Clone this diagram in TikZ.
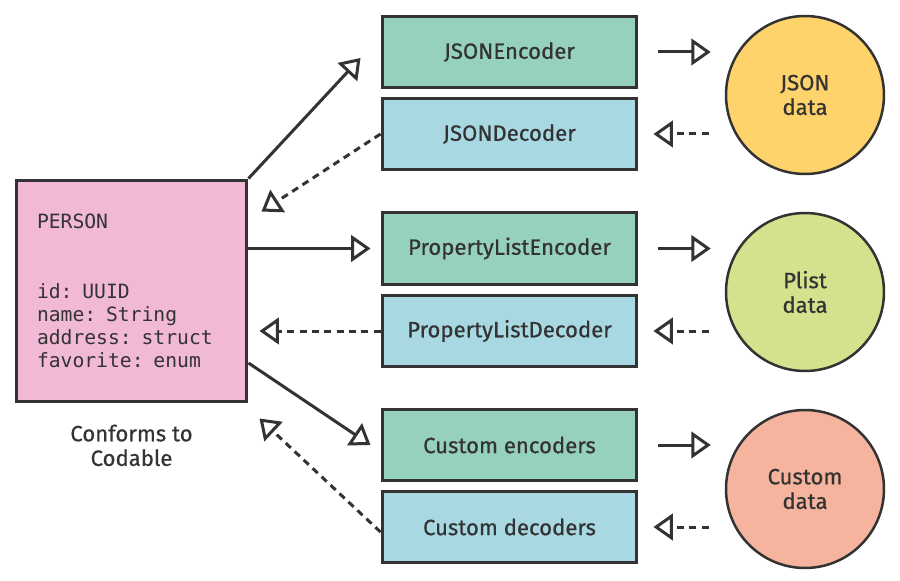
\documentclass[tikz,border=0pt]{standalone}
\usepackage{fontspec}
\setmainfont{Fira Sans}[FakeBold=0.6]
\setmonofont{DejaVu Sans Mono}
\usetikzlibrary{arrows.meta, positioning}
\definecolor{inkgray}{HTML}{333333}
\definecolor{personpink}{HTML}{F2B9D6}
\definecolor{encgreen}{HTML}{96D0BF}
\definecolor{decblue}{HTML}{A8D9E3}
\definecolor{jsonyellow}{HTML}{FFD36C}
\definecolor{plistlime}{HTML}{D6E18D}
\definecolor{customsalmon}{HTML}{F6B49E}

\begin{document}
\begin{tikzpicture}[x=0.02cm, y=-0.02cm,
    codebox/.style={draw=inkgray, line width=0.06cm, minimum width=5.1cm, minimum height=1.44cm, inner sep=0pt, text=inkgray, font=\fontsize{12.6}{14}\selectfont},
    encbox/.style={codebox, fill=encgreen},
    decbox/.style={codebox, fill=decblue},
    datacircle/.style={circle, draw=inkgray, line width=0.05cm, minimum size=3.16cm, inner sep=0pt, align=center, text=inkgray, font=\fontsize{12.6}{14}\selectfont},
    flow/.style={draw=inkgray, line width=0.06cm, line join=round, -{Triangle[open, length=11pt, width=15pt, line width=0.06cm]}},
    backflow/.style={flow, dash pattern=on 4pt off 3pt}]
    \useasboundingbox (0,0) rectangle (900,581);

    % the type that conforms to Codable
    \node[draw=inkgray, line width=0.06cm, fill=personpink, minimum width=4.62cm, minimum height=4.44cm,
          inner xsep=0.42cm, text width=3.78cm, align=left, text=inkgray,
          font=\ttfamily\fontsize{11.2}{13}\selectfont] (person) at (131.5,291)
        {PERSON\\[0.94cm] id: UUID\\ name: String\\ address: struct\\ favorite: enum};
    \node[below=0.3cm of person, align=center, text=inkgray, font=\fontsize{12.6}{14}\selectfont] (conforms) {Conforms to\\Codable};

    % encoders and decoders
    \node[encbox] (jsonenc) at (509.5,52) {JSONEncoder};
    \node[decbox] (jsondec) at (509.5,134) {JSONDecoder};
    \node[encbox] (plistenc) at (509.5,248.5) {PropertyListEncoder};
    \node[decbox] (plistdec) at (509.5,331) {PropertyListDecoder};
    \node[encbox] (customenc) at (509.5,445) {Custom encoders};
    \node[decbox] (customdec) at (509.5,527) {Custom decoders};

    % data formats
    \node[datacircle, fill=jsonyellow] (json) at (805,95) {JSON\\data};
    \node[datacircle, fill=plistlime] (plist) at (805,292) {Plist\\data};
    \node[datacircle, fill=customsalmon] (custom) at (805,489) {Custom\\data};

    % person <-> coders
    \draw[flow] (person.north east) -- ([shift={(-20,6)}]jsonenc.west);
    \draw[backflow] (jsondec.west) -- ([shift={(13,33)}]person.north east);
    \draw[flow, shorten >=10*0.02cm] (person.east |- plistenc.west) -- (plistenc.west);
    \draw[backflow, shorten >=11*0.02cm] (plistdec.west) -- (person.east |- plistdec.west);
    \draw[flow] ([shift={(0,72)}]person.east) -- ([shift={(-10,0)}]customenc.west);
    \draw[backflow] ([shift={(0,5)}]customdec.west) -- ([shift={(11,15)}]person.south east);

    % coders <-> data
    \foreach \enc/\dec/\data in {jsonenc/jsondec/json, plistenc/plistdec/plist, customenc/customdec/custom} {
        \draw[flow, shorten <=20*0.02cm, shorten >=14*0.02cm] (\enc.east) -- (\enc.east -| \data.west);
        \draw[backflow, shorten <=16*0.02cm, shorten >=15*0.02cm] (\data.west |- \dec.east) -- (\dec.east);
    }
\end{tikzpicture}
\end{document}
